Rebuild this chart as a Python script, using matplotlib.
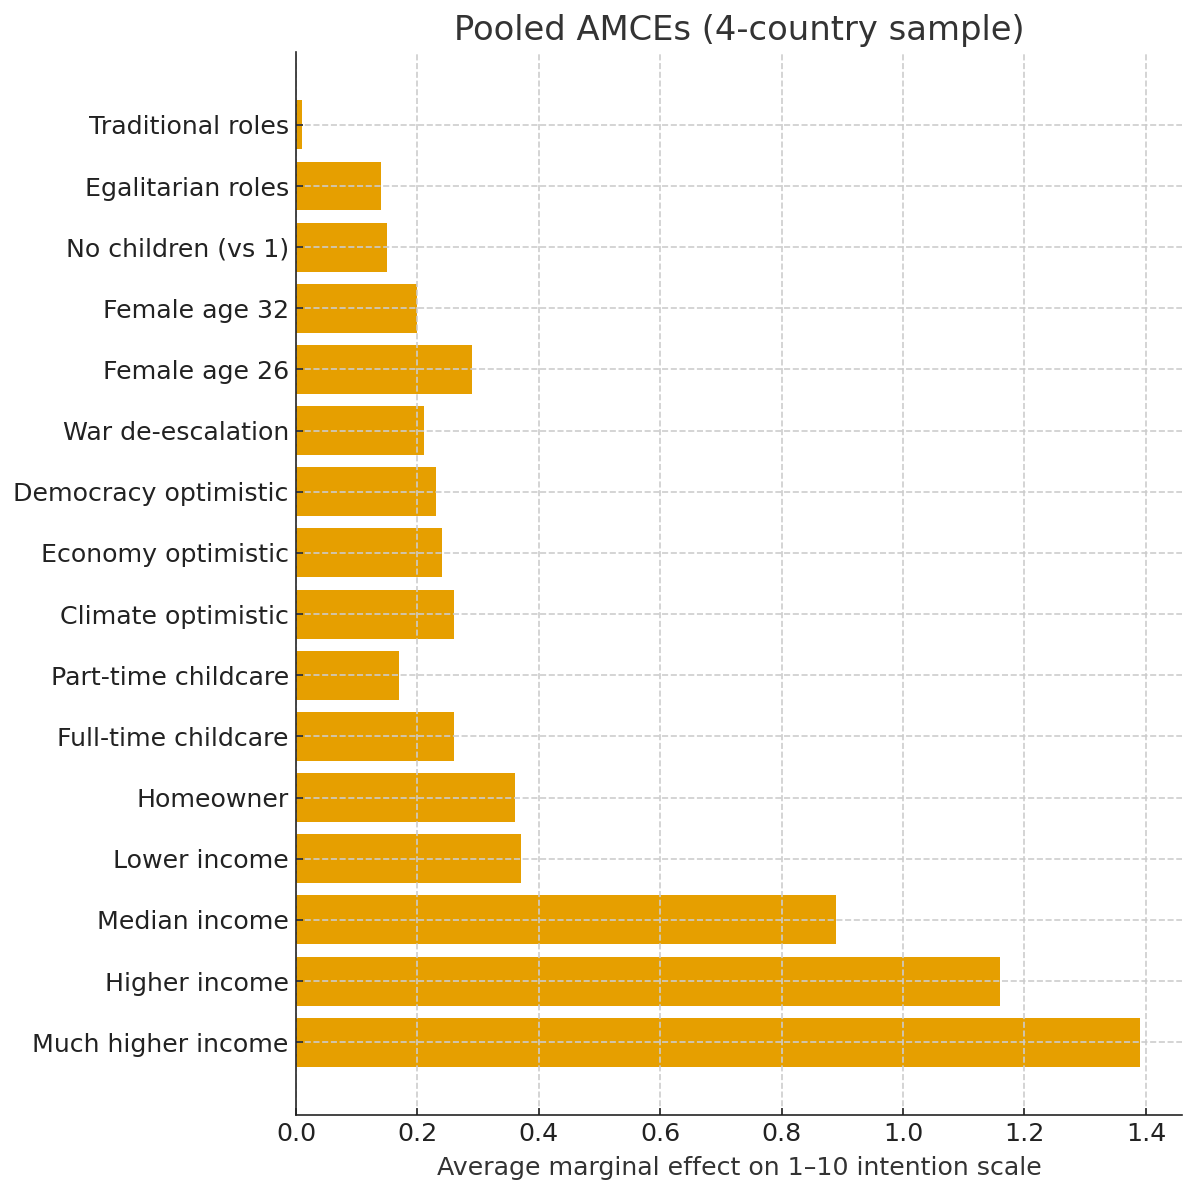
import matplotlib
matplotlib.use("Agg")
import matplotlib.pyplot as plt

labels = ["Much higher income", "Higher income", "Median income", "Lower income",
          "Homeowner", "Full-time childcare", "Part-time childcare",
          "Climate optimistic", "Economy optimistic", "Democracy optimistic",
          "War de-escalation", "Female age 26", "Female age 32",
          "No children (vs 1)", "Egalitarian roles", "Traditional roles"]
effects = [1.39, 1.16, 0.89, 0.37, 0.36, 0.26, 0.17, 0.26, 0.24, 0.23,
           0.21, 0.29, 0.20, 0.15, 0.14, 0.01]

fig, ax = plt.subplots(figsize=(1187 / 148, 1184 / 148), dpi=148)
fig.subplots_adjust(left=0.2494, right=0.9958, top=0.956, bottom=0.0583)

ax.barh(labels, effects, color="#E69F00", height=0.8)
ax.grid(True, linestyle="--", color="#cccccc", linewidth=0.8)
ax.set_axisbelow(False)

for s in ["top", "right"]:
    ax.spines[s].set_visible(False)
for s in ["left", "bottom"]:
    ax.spines[s].set_color("#222222")
    ax.spines[s].set_zorder(3)
ax.tick_params(direction="in", labelsize=12.3, colors="#222222")

ax.set_title("Pooled AMCEs (4-country sample)", fontsize=16.4, color="#333333")
ax.set_xlabel("Average marginal effect on 1–10 intention scale", fontsize=12.3,
              color="#333333", labelpad=5)

fig.savefig("out.png", dpi=148)
